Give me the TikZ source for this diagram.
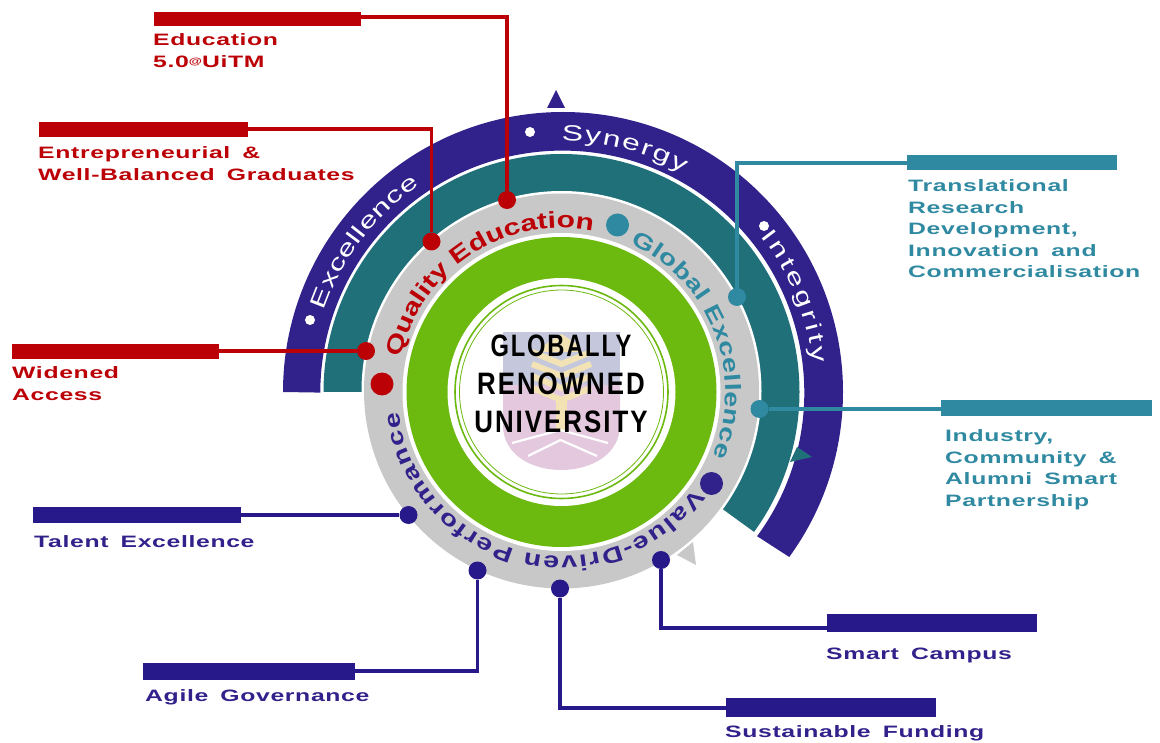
\documentclass[tikz,border=0pt]{standalone}
\usepackage{fontspec}
\usepackage{graphicx}
\usetikzlibrary{decorations.text}
\setmainfont{Liberation Sans}
\newfontfamily\techfont[FakeStretch=1.5,LetterSpace=4,WordSpace=1.6]{Liberation Sans Bold}
\newfontfamily\arcfont[FakeStretch=1.3]{Liberation Sans Bold}
\newfontfamily\thinfont[FakeStretch=1.45]{Liberation Sans}
\newfontfamily\dinfont[FakeStretch=0.78,LetterSpace=6]{Liberation Sans Bold}
\definecolor{cred}{HTML}{BB0006}
\definecolor{cnavy}{HTML}{31218B}
\definecolor{cnavyb}{HTML}{27198A}
\definecolor{cteal}{HTML}{20707A}
\definecolor{clteal}{HTML}{2F89A1}
\definecolor{cgray}{HTML}{C8C8C8}
\definecolor{cgreen}{HTML}{6CB90F}
\definecolor{cpink}{HTML}{E3C8DE}
\definecolor{cblue}{HTML}{C5C8DC}
\definecolor{cyell}{HTML}{F3E3B4}
\tikzset{
  x=1pt,y=1pt,
  barbox/.style={fill=#1,draw=none,inner sep=0pt,anchor=north west},
  link/.style={draw=#1,line width=3.4pt},
  hub/.style={circle,fill=#1,draw=none,minimum size=18pt,inner sep=0pt},
  lab/.style={text=#1,font=\techfont\fontsize{16.5}{21.5}\selectfont,align=left,anchor=north west,inner sep=0pt},
}
\newcommand{\arclabel}[6]{% font, colour, text, start, end, radius
  \path[decorate,decoration={text along path,text align={fit to path},text={|#1\color{#2}|#3}}]
  ([shift={(#4:#6)}]c) arc[start angle=#4,end angle=#5,radius=#6];}
\begin{document}
\begin{tikzpicture}
\useasboundingbox (0,0) rectangle (1160,-743);
\coordinate (c) at (561.5,-392);
\coordinate (cn) at (563,-392);
% navy band
\fill[cnavy] (cn) ++(180:280) arc[start angle=180,end angle=-36.1,radius=280]
  -- ([shift={(-36.4:243)}]c) arc[start angle=-36.4,end angle=180,radius=242] -- cycle;
% teal band
\fill[cteal] (c) ++(180:238) arc[start angle=180,end angle=-36,radius=238]
  -- ([shift={(-36:198)}]c) arc[start angle=-36,end angle=180,radius=198] -- cycle;
% gray ring
\fill[white] (561.5,-391) circle[radius=200];
\fill[cgray] (561.5,-391) circle[radius=197.5];
\fill[white] (c) circle[radius=159];
\fill[cgreen] (c) circle[radius=155];
\fill[white] (c) circle[radius=114];
\draw[cgreen,line width=1.6pt] (c) circle[radius=106.5];
\draw[cgreen,line width=0.8pt] (c) circle[radius=102];
% shield
\fill[cblue] (503,-332) rectangle (620,-392);
\fill[cpink] (503,-385) -- (620,-385) -- (620,-425) .. controls (620,-455) and (590,-470) .. (561.5,-470) .. controls (532,-470) and (503,-455) .. (503,-425) -- cycle;
\fill[cyell] (543,-346) -- (561.5,-334) -- (580,-346) -- (580,-352) -- (543,-352) -- cycle;
\foreach \yy in {352,364,376,388}{
  \draw[cyell,line width=6pt] (532,-\yy) -- (561.5,-\yy-12) -- (591,-\yy);
}
\fill[cyell] (556,-400) rectangle (567,-432);
\draw[white,line width=2.2pt] (512,-443) -- (560.5,-430) -- (608,-443);
\draw[white,line width=2.2pt] (528,-456) -- (560.5,-440) -- (597,-456);
% centre text
\node[font=\dinfont\fontsize{31}{38}\selectfont,align=center,text=black,inner sep=0pt] (ctext) at (561,-384) {\scalebox{0.98}[1]{GLOBALLY}\\\scalebox{1.07}[1]{RENOWNED}\\\scalebox{1.07}[1]{UNIVERSITY}};
% arrowheads
\fill[cnavy] (556,-90) -- (565,-108) -- (547,-108) -- cycle;
\fill[cteal] (812,-457) -- (797,-447) -- (790,-462) -- cycle;
\fill[cgray] (677,-555) -- (693,-542) -- (696,-565) -- cycle;
% arc texts
\arclabel{\arcfont\fontsize{23}{28}\selectfont}{cred}{Quality Education}{168}{79}{164}
\arclabel{\arcfont\fontsize{22}{26}\selectfont}{clteal}{Global Excellence}{65}{-23}{164}
\arclabel{\arcfont\fontsize{22}{26}\selectfont}{cnavy}{Value-Driven Performance}{-36}{-173}{164}
\arclabel{\thinfont\fontsize{22}{26}\selectfont}{white}{Synergy}{90}{61}{251}
\arclabel{\thinfont\fontsize{22}{26}\selectfont}{white}{Excellence}{161}{124.5}{251}
\arclabel{\thinfont\fontsize{22}{26}\selectfont}{white}{Integrity}{38}{6.5}{253}
% white dots
\fill[white] (530,-132) circle[radius=5] (764,-226) circle[radius=5] (310,-320) circle[radius=5];
% bars
\node[barbox=cred,minimum width=207pt,minimum height=14pt] (b1) at (154,-12) {};
\node[barbox=cred,minimum width=209pt,minimum height=15pt] (b2) at (39,-122) {};
\node[barbox=cred,minimum width=207pt,minimum height=15pt] (b3) at (12,-344) {};
\node[barbox=clteal,minimum width=210pt,minimum height=15pt] (b4) at (907,-155) {};
\node[barbox=clteal,minimum width=211pt,minimum height=16pt] (b5) at (941,-400) {};
\node[barbox=cnavyb,minimum width=208pt,minimum height=16pt] (b6) at (33,-507) {};
\node[barbox=cnavyb,minimum width=212pt,minimum height=17pt] (b7) at (143,-663) {};
\node[barbox=cnavyb,minimum width=210pt,minimum height=19pt] (b8) at (726,-698) {};
\node[barbox=cnavyb,minimum width=210pt,minimum height=18pt] (b9) at (827,-614) {};
% hubs
\node[hub=cred] (h1) at (507,-200) {};
\node[hub=cred] (h2) at (431.5,-241.5) {};
\node[hub=cred] (h3) at (366,-351) {};
\node[hub=clteal] (h4) at (737,-297) {};
\node[hub=clteal] (h5) at (759.5,-409) {};
\node[hub=cnavyb] (h6) at (408.5,-515) {};
\node[hub=cnavyb] (h7) at (477.5,-570.5) {};
\node[hub=cnavyb] (h8) at (560,-588.5) {};
\node[hub=cnavyb] (h9) at (661,-560) {};
\node[hub=cred,minimum size=23pt] (d1) at (382,-384) {};
\node[hub=clteal,minimum size=23pt] (d2) at (617.5,-225) {};
\node[hub=cnavy,minimum size=23pt] (d3) at (711.5,-483.5) {};
% links
\draw[link=cred] (b1.east |- 0,-17) -| (h1);
\draw[link=cred] (b2.east |- 0,-129) -| (h2);
\draw[link=cred] (b3.east |- 0,-351) -- (h3);
\draw[link=clteal] (b4.west |- 0,-163) -| (h4);
\draw[link=clteal] (b5.west |- 0,-409) -- (h5);
\draw[link=cnavyb] (b6.east |- 0,-515) -- (h6);
\draw[link=cnavyb] (b7.east |- 0,-671) -| (h7);
\draw[link=cnavyb] (b8.west |- 0,-708) -| (h8);
\draw[link=cnavyb] (b9.west |- 0,-628) -| (h9);
% labels
\node[lab=cred] (l1) at (153,-33.5) {Education\\5.0{\fontsize{9}{9}\selectfont\raisebox{2.5pt}{@}}UiTM};
\node[lab=cred] (l2) at (38,-146.5) {Entrepreneurial \&\\Well-Balanced Graduates};
\node[lab=cred] (l3) at (12,-366.5) {Widened\\Access};
\node[lab=clteal] (l4) at (908,-179.5) {Translational\\Research\\Development,\\Innovation and\\Commercialisation};
\node[lab=clteal] (l5) at (945,-429.5) {Industry,\\Community \&\\Alumni Smart\\Partnership};
\node[lab=cnavy] (l6) at (34,-535.5) {Talent Excellence};
\node[lab=cnavy] (l7) at (145,-689.5) {Agile Governance};
\node[lab=cnavy] (l8) at (725,-725.5) {Sustainable Funding};
\node[lab=cnavy] (l9) at (826,-647.5) {Smart Campus};
\end{tikzpicture}
\end{document}
